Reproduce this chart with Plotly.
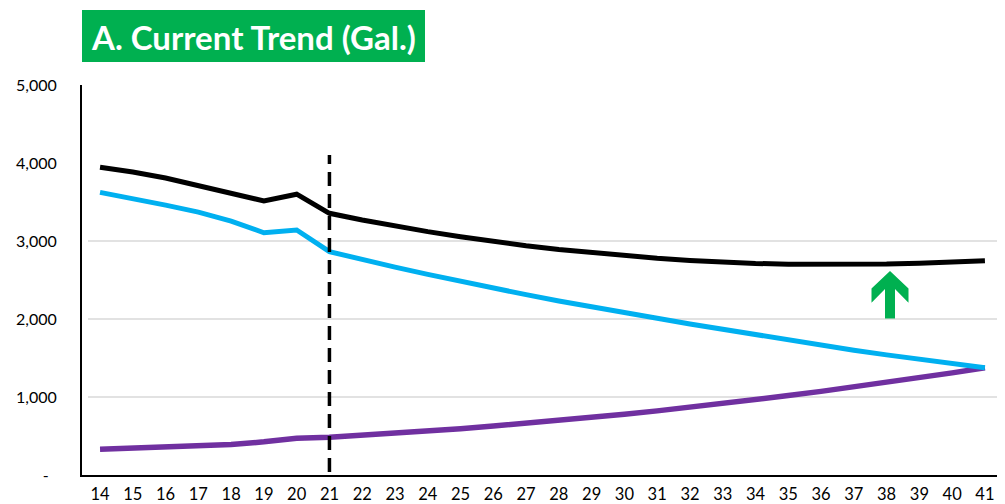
import plotly.graph_objects as go

years = list(range(14, 42))
total = [3945, 3885, 3808, 3705, 3605, 3513, 3600, 3355, 3270, 3190, 3120, 3055, 2995, 2940,
         2892, 2850, 2812, 2778, 2750, 2728, 2712, 2703, 2700, 2700, 2705, 2715, 2730, 2747]
blue = [3624, 3550, 3460, 3370, 3256, 3106, 3141, 2863, 2760, 2665, 2572, 2482, 2396, 2312,
        2230, 2152, 2078, 2009, 1935, 1865, 1795, 1730, 1667, 1600, 1540, 1482, 1428, 1375]
purple = [329, 345, 360, 372, 390, 425, 470, 483, 508, 535, 563, 594, 627, 662,
          698, 737, 778, 822, 868, 916, 966, 1018, 1072, 1128, 1186, 1246, 1309, 1375]
y_ticks = [0, 1000, 2000, 3000, 4000, 5000]
y_ticktext = ["-\u00a0\u00a0", "1,000", "2,000", "3,000", "4,000", "5,000"]
title_text = "A. Current Trend (Gal.)"
divider_year = 21
arrow_year = 38

FONT = "Lato"
fig = go.Figure()
for vals, col, w in [(purple, "#7030A0", 5.5), (blue, "#00B0F0", 5), (total, "#000000", 5)]:
    fig.add_trace(go.Scatter(x=years, y=vals, mode="lines",
                             line=dict(color=col, width=w), showlegend=False,
                             hoverinfo="skip"))

# page offset (default body margin) compensation
O = 8
VW, VH = 1005, 504
W, H = VW - O, VH - O
# plot area in viewport pixels
PL, PR, PT, PB = 82, 1000, 85, 475
L, R, T, B = PL - O, VW - PR, PT - O, VH - PB
pw, ph = PR - PL, PB - PT
x0r, x1r = 13.45, 41.46
y0r, y1r = 0, 5000
def px2x(px):
    return x0r + (px - PL) / pw * (x1r - x0r)
def py2y(py):
    return y1r - (py - PT) / ph * (y1r - y0r)
def px2paper(px):
    return (px - PL) / pw
def py2paper(py):
    return (PB - py) / ph

shapes = []
for g in [1000, 2000, 3000]:
    shapes.append(dict(type="line", xref="paper", yref="y", x0=px2paper(88), x1=1, y0=g, y1=g,
                       line=dict(color="#D9D9D9", width=1.3), layer="below"))
shapes.append(dict(type="line", xref="x", yref="y", x0=divider_year, x1=divider_year,
                   y0=py2y(472), y1=py2y(155), line=dict(color="black", width=3.5, dash="14px,8px")))

# green block arrow
cx = 890
pts = [(0, 271), (-18.5, 288.5), (-18.5, 302.7), (-5, 289), (-5, 318.5), (5, 318.5),
       (5, 289), (18.5, 302.7), (18.5, 288.5)]
path = "M " + " L ".join(f"{px2x(cx+dx):.4f},{py2y(py):.2f}" for dx, py in pts) + " Z"
shapes.append(dict(type="path", xref="x", yref="y", path=path,
                   fillcolor="#00B050", line=dict(width=0)))

# title box
shapes.append(dict(type="rect", xref="paper", yref="paper",
                   x0=px2paper(82), x1=px2paper(425), y0=py2paper(62), y1=py2paper(10),
                   fillcolor="#00B050", line=dict(width=0)))

fig.update_layout(
    width=W, height=H, margin=dict(l=L, r=R, t=T, b=B, autoexpand=False),
    paper_bgcolor="white", plot_bgcolor="white",
    font=dict(family=FONT, color="black"),
    shapes=shapes,
    annotations=[dict(text=f"<b>{title_text}</b>", xref="paper", yref="paper",
                      x=px2paper(253), y=py2paper(37), showarrow=False,
                      font=dict(family=FONT, size=33, color="white"),
                      xanchor="center", yanchor="middle")],
    xaxis=dict(range=[x0r, x1r], tickvals=years, ticktext=[str(y) for y in years],
               showgrid=False, showline=True, linecolor="black", linewidth=2,
               ticks="", tickfont=dict(size=16.5, family=FONT), ticklabelstandoff=3,
               zeroline=False, automargin=False),
    yaxis=dict(range=[y0r, y1r], tickvals=y_ticks, ticktext=y_ticktext,
               showgrid=False, showline=True, linecolor="black", linewidth=2,
               ticks="", tickfont=dict(size=16, family=FONT), ticklabelstandoff=20,
               zeroline=False, automargin=False),
)
fig.write_html("out.html")
